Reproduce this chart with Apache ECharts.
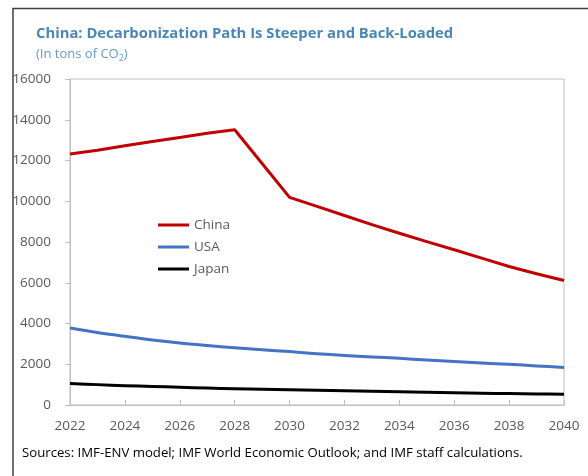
<!DOCTYPE html>
<html>
<head>
<meta charset="utf-8">
<script src="https://cdn.jsdelivr.net/npm/echarts@6/dist/echarts.min.js"></script>
<style>
  html, body { margin: 0; padding: 0; background: #fff; }
  #chart { width: 588px; height: 476px; }
</style>
</head>
<body>
<div id="chart"></div>
<script>
// data
const years = [2022, 2023, 2024, 2025, 2026, 2027, 2028, 2029, 2030, 2031,
  2032, 2033, 2034, 2035, 2036, 2037, 2038, 2039, 2040];
const china = [12320, 12500, 12720, 12930, 13130, 13340, 13510, 11850, 10190, 9750,
  9300, 8850, 8430, 8020, 7620, 7210, 6800, 6440, 6110];
const usa = [3780, 3560, 3370, 3190, 3040, 2920, 2810, 2710, 2620, 2520,
  2430, 2360, 2290, 2210, 2130, 2060, 2000, 1920, 1840];
const japan = [1050, 1000, 950, 910, 870, 830, 800, 775, 750, 725,
  700, 675, 650, 625, 600, 580, 560, 545, 530];
const yTicks = [0, 2000, 4000, 6000, 8000, 10000, 12000, 14000, 16000];

const font = "'Open Sans', 'Noto Sans', sans-serif";
const pairs = arr => years.map((y, i) => [y, arr[i]]);

const chart = echarts.init(document.getElementById('chart'));

const lineSeries = (name, arr, color, smooth) => ({
  name: name,
  type: 'line',
  data: pairs(arr),
  symbol: 'none',
  smooth: smooth,
  lineStyle: {color: color, width: 3, join: 'round'},
  itemStyle: {color: color}
});

chart.setOption({
  animation: false,
  textStyle: {fontFamily: font},
  title: {
    text: 'China: Decarbonization Path Is Steeper and Back-Loaded',
    subtext: '(In tons of CO{sub|2})',
    left: 31,
    top: 21,
    itemGap: 5,
    textStyle: {fontFamily: font, fontSize: 14.8, fontWeight: 'bold', color: '#4a86b8'},
    subtextStyle: {
      fontFamily: font, fontSize: 13, color: '#5f9bd2',
      rich: {sub: {fontFamily: font, fontSize: 9, color: '#5f9bd2', padding: [8, 0, 0, 0]}}
    }
  },
  legend: {
    orient: 'vertical',
    left: 153,
    top: 213,
    itemGap: 8,
    itemWidth: 31,
    itemHeight: 3,
    icon: 'rect',
    textStyle: {fontFamily: font, fontSize: 13.5, color: '#595959'},
    data: ['China', 'USA', 'Japan']
  },
  grid: {
    left: 70, right: 24, top: 79, bottom: 71,
    show: true, borderColor: '#bfbfbf', borderWidth: 1
  },
  xAxis: {
    type: 'value',
    min: 2022, max: 2040, interval: 2,
    axisLine: {lineStyle: {color: '#bfbfbf'}},
    axisTick: {inside: true, length: 5, lineStyle: {color: '#bfbfbf'}},
    splitLine: {show: false},
    axisLabel: {
      color: '#595959', fontSize: 13.5, fontFamily: font, margin: 14,
      formatter: v => String(v)
    }
  },
  yAxis: {
    type: 'value',
    min: yTicks[0], max: yTicks[yTicks.length - 1], interval: 2000,
    axisLine: {show: true, lineStyle: {color: '#bfbfbf'}},
    axisTick: {show: true, length: 5, lineStyle: {color: '#bfbfbf'}},
    splitLine: {show: false},
    axisLabel: {
      color: '#595959', fontSize: 13.5, fontFamily: font, margin: 19,
      formatter: v => String(v)
    }
  },
  graphic: [
    {type: 'polyline', shape: {points: [[13, 476], [13, 8.5], [588, 8.5]]},
      style: {stroke: '#404040', lineWidth: 1.5, fill: null}},
    {type: 'text', left: 22, top: 447,
      style: {text: 'Sources: IMF-ENV model; IMF World Economic Outlook; and IMF staff calculations.',
        fontFamily: font, fontSize: 13.2, fill: '#000'}}
  ],
  series: [
    lineSeries('China', china, '#c00000', false),
    lineSeries('USA', usa, '#4472c4', 0.3),
    lineSeries('Japan', japan, '#000000', 0.3)
  ]
});
</script>
</body>
</html>
